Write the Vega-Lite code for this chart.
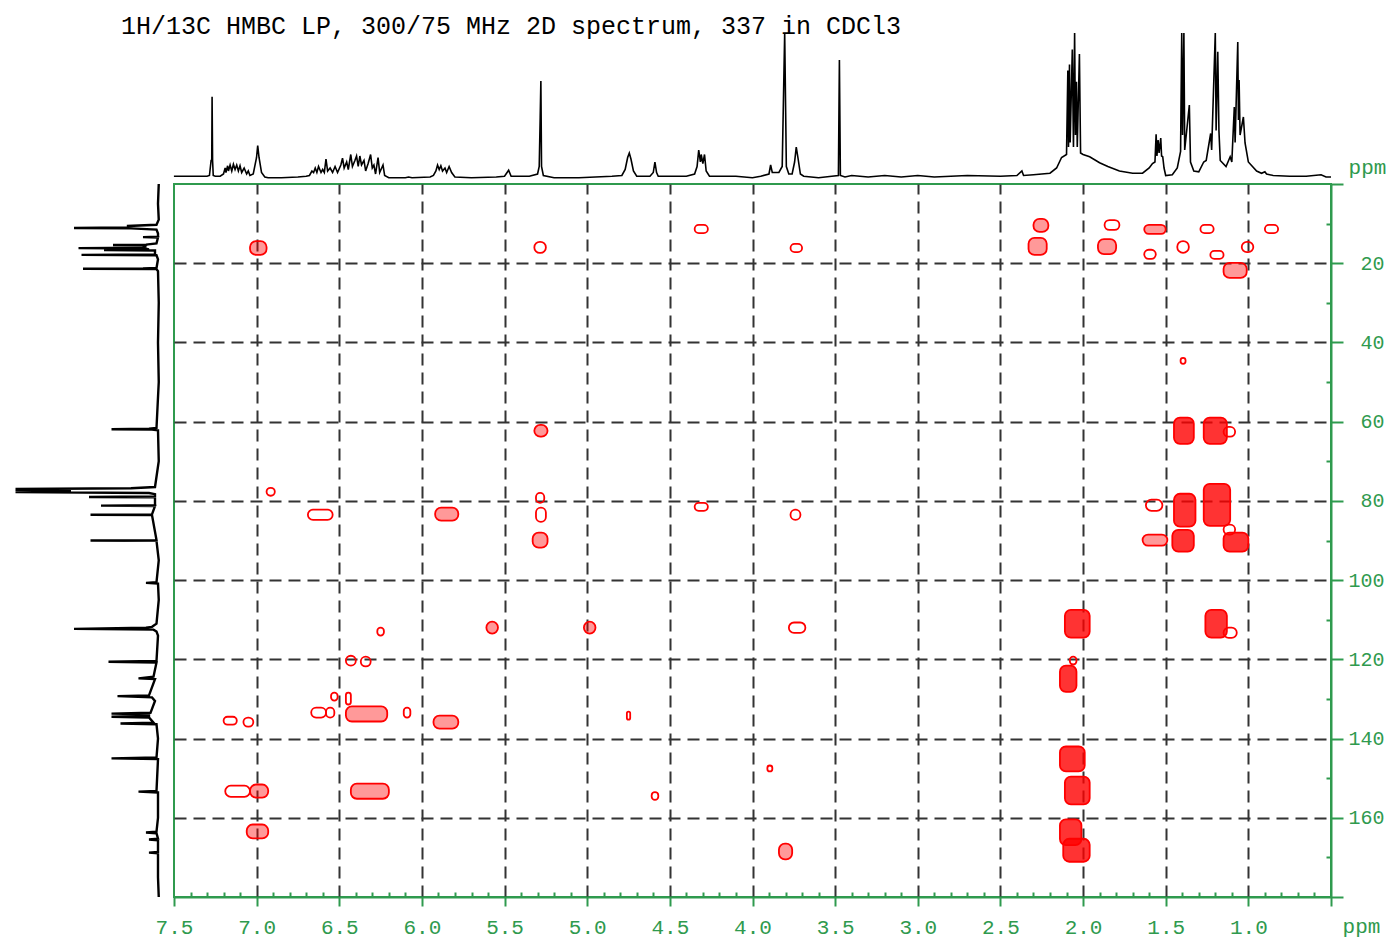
{
  "$schema": "https://vega.github.io/schema/vega-lite/v6.json",
  "padding": {"left": 10, "top": 13, "right": 0, "bottom": 0},
  "background": "white",
  "bounds": "flush",
  "spacing": 4,
  "config": {"font": "Liberation Mono", "view": {"stroke": null}},
  "datasets": {
    "proton": [
      {"d": 7.50, "i": 2.5}, {"d": 7.30, "i": 2.5}, {"d": 7.285, "i": 3}, {"d": 7.275, "i": 13}, {"d": 7.271, "i": 13},
      {"d": 7.269, "i": 55.5}, {"d": 7.266, "i": 13}, {"d": 7.262, "i": 3}, {"d": 7.25, "i": 2.5}, {"d": 7.22, "i": 2.5},
      {"d": 7.20, "i": 4}, {"d": 7.19, "i": 8}, {"d": 7.185, "i": 5}, {"d": 7.175, "i": 9.5}, {"d": 7.17, "i": 6},
      {"d": 7.16, "i": 10}, {"d": 7.15, "i": 6}, {"d": 7.14, "i": 10.5}, {"d": 7.13, "i": 7}, {"d": 7.12, "i": 10},
      {"d": 7.11, "i": 6}, {"d": 7.10, "i": 9.5}, {"d": 7.09, "i": 5}, {"d": 7.075, "i": 8}, {"d": 7.06, "i": 4},
      {"d": 7.05, "i": 6}, {"d": 7.04, "i": 3}, {"d": 7.02, "i": 4}, {"d": 7.00, "i": 15}, {"d": 6.993, "i": 23},
      {"d": 6.985, "i": 15}, {"d": 6.97, "i": 5}, {"d": 6.95, "i": 2}, {"d": 6.93, "i": 1.5}, {"d": 6.85, "i": 1.5},
      {"d": 6.75, "i": 2}, {"d": 6.70, "i": 2.5}, {"d": 6.68, "i": 3}, {"d": 6.665, "i": 6}, {"d": 6.655, "i": 5},
      {"d": 6.645, "i": 8}, {"d": 6.635, "i": 5}, {"d": 6.625, "i": 9}, {"d": 6.61, "i": 5}, {"d": 6.60, "i": 7},
      {"d": 6.59, "i": 5}, {"d": 6.58, "i": 14}, {"d": 6.57, "i": 6}, {"d": 6.555, "i": 8}, {"d": 6.54, "i": 5},
      {"d": 6.525, "i": 9}, {"d": 6.51, "i": 5}, {"d": 6.49, "i": 10}, {"d": 6.48, "i": 14.5}, {"d": 6.47, "i": 8},
      {"d": 6.455, "i": 12}, {"d": 6.445, "i": 7}, {"d": 6.43, "i": 17}, {"d": 6.42, "i": 9}, {"d": 6.405, "i": 13},
      {"d": 6.395, "i": 16}, {"d": 6.385, "i": 9}, {"d": 6.375, "i": 16}, {"d": 6.365, "i": 10}, {"d": 6.35, "i": 13},
      {"d": 6.34, "i": 6}, {"d": 6.325, "i": 11}, {"d": 6.31, "i": 17}, {"d": 6.30, "i": 8}, {"d": 6.29, "i": 10},
      {"d": 6.28, "i": 4}, {"d": 6.265, "i": 15}, {"d": 6.255, "i": 5}, {"d": 6.235, "i": 10}, {"d": 6.225, "i": 3},
      {"d": 6.20, "i": 1.5}, {"d": 6.10, "i": 1.5}, {"d": 6.08, "i": 2}, {"d": 6.06, "i": 1.5}, {"d": 5.95, "i": 2},
      {"d": 5.93, "i": 3}, {"d": 5.915, "i": 6}, {"d": 5.905, "i": 10}, {"d": 5.895, "i": 7}, {"d": 5.885, "i": 9.5},
      {"d": 5.875, "i": 6}, {"d": 5.86, "i": 8}, {"d": 5.85, "i": 5}, {"d": 5.835, "i": 9}, {"d": 5.82, "i": 5},
      {"d": 5.80, "i": 2}, {"d": 5.70, "i": 1.5}, {"d": 5.55, "i": 2}, {"d": 5.50, "i": 2.5}, {"d": 5.475, "i": 6.5},
      {"d": 5.46, "i": 2.5}, {"d": 5.35, "i": 2.5}, {"d": 5.30, "i": 4}, {"d": 5.29, "i": 9}, {"d": 5.284, "i": 42},
      {"d": 5.280, "i": 66}, {"d": 5.276, "i": 9}, {"d": 5.265, "i": 3}, {"d": 5.20, "i": 1.5}, {"d": 5.05, "i": 1.5},
      {"d": 4.95, "i": 2}, {"d": 4.85, "i": 2.5}, {"d": 4.79, "i": 3}, {"d": 4.77, "i": 7}, {"d": 4.755, "i": 15},
      {"d": 4.745, "i": 18}, {"d": 4.735, "i": 14}, {"d": 4.72, "i": 6}, {"d": 4.70, "i": 2.5}, {"d": 4.62, "i": 2.5},
      {"d": 4.60, "i": 5}, {"d": 4.59, "i": 12}, {"d": 4.58, "i": 5}, {"d": 4.57, "i": 2.5}, {"d": 4.40, "i": 2.5},
      {"d": 4.35, "i": 4}, {"d": 4.335, "i": 9}, {"d": 4.325, "i": 20}, {"d": 4.315, "i": 12}, {"d": 4.31, "i": 17},
      {"d": 4.30, "i": 11}, {"d": 4.29, "i": 17}, {"d": 4.28, "i": 6}, {"d": 4.26, "i": 2.5}, {"d": 4.10, "i": 2.5},
      {"d": 4.00, "i": 1.5}, {"d": 3.95, "i": 2.5}, {"d": 3.90, "i": 4}, {"d": 3.89, "i": 10}, {"d": 3.88, "i": 5},
      {"d": 3.84, "i": 5}, {"d": 3.82, "i": 9}, {"d": 3.805, "i": 98}, {"d": 3.795, "i": 9}, {"d": 3.78, "i": 4},
      {"d": 3.76, "i": 4}, {"d": 3.745, "i": 12}, {"d": 3.735, "i": 22}, {"d": 3.725, "i": 15}, {"d": 3.71, "i": 4},
      {"d": 3.69, "i": 2.5}, {"d": 3.60, "i": 1.5}, {"d": 3.52, "i": 2.5}, {"d": 3.48, "i": 3}, {"d": 3.474, "i": 80},
      {"d": 3.468, "i": 3}, {"d": 3.44, "i": 2}, {"d": 3.40, "i": 3}, {"d": 3.30, "i": 2}, {"d": 3.20, "i": 3},
      {"d": 3.10, "i": 2}, {"d": 3.00, "i": 3}, {"d": 2.90, "i": 2}, {"d": 2.70, "i": 3}, {"d": 2.50, "i": 2.5},
      {"d": 2.40, "i": 3}, {"d": 2.37, "i": 6}, {"d": 2.36, "i": 3}, {"d": 2.30, "i": 3.5}, {"d": 2.20, "i": 4.5},
      {"d": 2.16, "i": 8}, {"d": 2.13, "i": 15}, {"d": 2.10, "i": 17}, {"d": 2.092, "i": 73}, {"d": 2.088, "i": 22},
      {"d": 2.082, "i": 77}, {"d": 2.078, "i": 25}, {"d": 2.065, "i": 87}, {"d": 2.058, "i": 22}, {"d": 2.051, "i": 98},
      {"d": 2.046, "i": 30}, {"d": 2.040, "i": 65.5}, {"d": 2.035, "i": 22}, {"d": 2.022, "i": 84}, {"d": 2.015, "i": 18},
      {"d": 2.00, "i": 17}, {"d": 1.96, "i": 15.5}, {"d": 1.90, "i": 11.5}, {"d": 1.85, "i": 9}, {"d": 1.78, "i": 6},
      {"d": 1.70, "i": 4.5}, {"d": 1.64, "i": 4.5}, {"d": 1.60, "i": 8}, {"d": 1.58, "i": 11}, {"d": 1.565, "i": 12},
      {"d": 1.558, "i": 30.5}, {"d": 1.553, "i": 16}, {"d": 1.546, "i": 26.7}, {"d": 1.540, "i": 18}, {"d": 1.530, "i": 28},
      {"d": 1.525, "i": 16}, {"d": 1.518, "i": 15.5}, {"d": 1.51, "i": 8}, {"d": 1.50, "i": 3}, {"d": 1.46, "i": 3.5},
      {"d": 1.43, "i": 8}, {"d": 1.41, "i": 19}, {"d": 1.403, "i": 98}, {"d": 1.398, "i": 30}, {"d": 1.390, "i": 98},
      {"d": 1.385, "i": 20}, {"d": 1.357, "i": 50}, {"d": 1.35, "i": 12}, {"d": 1.33, "i": 6}, {"d": 1.30, "i": 5.5},
      {"d": 1.27, "i": 12}, {"d": 1.255, "i": 13}, {"d": 1.228, "i": 31}, {"d": 1.222, "i": 20}, {"d": 1.200, "i": 98},
      {"d": 1.195, "i": 33}, {"d": 1.185, "i": 85.5}, {"d": 1.178, "i": 33}, {"d": 1.17, "i": 13}, {"d": 1.135, "i": 9},
      {"d": 1.110, "i": 15.5}, {"d": 1.10, "i": 12}, {"d": 1.085, "i": 48.6}, {"d": 1.080, "i": 25}, {"d": 1.064, "i": 92},
      {"d": 1.060, "i": 40}, {"d": 1.056, "i": 66.7}, {"d": 1.050, "i": 30}, {"d": 1.030, "i": 42}, {"d": 1.020, "i": 24.7},
      {"d": 1.00, "i": 12}, {"d": 0.95, "i": 6}, {"d": 0.92, "i": 4.5}, {"d": 0.90, "i": 5.5}, {"d": 0.89, "i": 4},
      {"d": 0.85, "i": 3}, {"d": 0.75, "i": 2.5}, {"d": 0.65, "i": 2.5}, {"d": 0.56, "i": 3.5}, {"d": 0.53, "i": 2},
      {"d": 0.50, "i": 2}
    ],
    "carbon": [
      {"c": 0, "i": 1.5}, {"c": 5, "i": 2}, {"c": 9, "i": 1.5}, {"c": 10.3, "i": 3}, {"c": 10.6, "i": 22},
      {"c": 11.0, "i": 22}, {"c": 11.1, "i": 58}, {"c": 11.2, "i": 20}, {"c": 11.5, "i": 3}, {"c": 12.5, "i": 2},
      {"c": 13.3, "i": 2}, {"c": 13.4, "i": 12}, {"c": 13.5, "i": 2}, {"c": 15.0, "i": 3}, {"c": 15.3, "i": 10},
      {"c": 15.4, "i": 32}, {"c": 15.5, "i": 10}, {"c": 16.1, "i": 12}, {"c": 16.2, "i": 55}, {"c": 16.3, "i": 10},
      {"c": 16.6, "i": 8}, {"c": 16.7, "i": 38}, {"c": 16.8, "i": 4}, {"c": 17.8, "i": 4}, {"c": 17.9, "i": 53},
      {"c": 18.0, "i": 3}, {"c": 19, "i": 2}, {"c": 21.2, "i": 3}, {"c": 21.3, "i": 12}, {"c": 21.4, "i": 52},
      {"c": 21.5, "i": 3}, {"c": 22, "i": 2}, {"c": 30, "i": 1.5}, {"c": 40, "i": 2}, {"c": 50, "i": 1.5},
      {"c": 61.6, "i": 3}, {"c": 61.8, "i": 8}, {"c": 61.9, "i": 33}, {"c": 62.0, "i": 6}, {"c": 62.2, "i": 2},
      {"c": 70, "i": 1.5}, {"c": 76.5, "i": 4}, {"c": 76.8, "i": 20}, {"c": 77.0, "i": 97}, {"c": 77.2, "i": 60},
      {"c": 77.4, "i": 97}, {"c": 77.6, "i": 60}, {"c": 77.8, "i": 97}, {"c": 78.0, "i": 8}, {"c": 78.3, "i": 4},
      {"c": 78.9, "i": 4}, {"c": 79.0, "i": 48}, {"c": 79.1, "i": 4}, {"c": 81.1, "i": 4}, {"c": 81.2, "i": 40},
      {"c": 81.3, "i": 4}, {"c": 83.4, "i": 6}, {"c": 83.5, "i": 47}, {"c": 83.6, "i": 6}, {"c": 89.9, "i": 3},
      {"c": 90.0, "i": 47}, {"c": 90.1, "i": 3}, {"c": 95, "i": 1.5}, {"c": 100.5, "i": 3}, {"c": 100.7, "i": 10},
      {"c": 100.9, "i": 2}, {"c": 105, "i": 1.5}, {"c": 111.0, "i": 3}, {"c": 111.8, "i": 6}, {"c": 112.0, "i": 10},
      {"c": 112.3, "i": 58}, {"c": 112.5, "i": 5}, {"c": 113.0, "i": 3}, {"c": 114, "i": 2}, {"c": 120.4, "i": 3},
      {"c": 120.6, "i": 35}, {"c": 120.8, "i": 3}, {"c": 124.4, "i": 5}, {"c": 124.8, "i": 15}, {"c": 125.0, "i": 4},
      {"c": 129.1, "i": 8}, {"c": 129.3, "i": 29}, {"c": 129.6, "i": 6}, {"c": 130.5, "i": 4}, {"c": 133.5, "i": 7},
      {"c": 133.7, "i": 33}, {"c": 133.9, "i": 8}, {"c": 134.3, "i": 8}, {"c": 134.5, "i": 33}, {"c": 134.7, "i": 8},
      {"c": 136.0, "i": 5}, {"c": 136.2, "i": 27}, {"c": 136.4, "i": 3}, {"c": 140, "i": 2}, {"c": 144.8, "i": 3},
      {"c": 145.0, "i": 33}, {"c": 145.2, "i": 2}, {"c": 153.2, "i": 3}, {"c": 153.4, "i": 15}, {"c": 153.6, "i": 2},
      {"c": 160, "i": 2}, {"c": 163.5, "i": 3}, {"c": 163.7, "i": 10}, {"c": 163.9, "i": 3}, {"c": 165.3, "i": 2},
      {"c": 165.5, "i": 8}, {"c": 165.7, "i": 2}, {"c": 168.6, "i": 2}, {"c": 168.8, "i": 8}, {"c": 169.0, "i": 2},
      {"c": 175, "i": 2}, {"c": 180, "i": 1.5}
    ],
    "peaks": [
      {"x1": 4.35, "x2": 4.27, "y1": 10.3, "y2": 12.4, "lv": 1},
      {"x1": 2.30, "x2": 2.21, "y1": 8.8, "y2": 12.1, "lv": 2},
      {"x1": 1.87, "x2": 1.78, "y1": 9.1, "y2": 11.6, "lv": 1},
      {"x1": 1.63, "x2": 1.50, "y1": 10.3, "y2": 12.6, "lv": 2},
      {"x1": 1.29, "x2": 1.21, "y1": 10.3, "y2": 12.4, "lv": 1},
      {"x1": 0.90, "x2": 0.82, "y1": 10.3, "y2": 12.4, "lv": 1},
      {"x1": 7.04, "x2": 6.94, "y1": 14.4, "y2": 17.9, "lv": 2},
      {"x1": 5.32, "x2": 5.25, "y1": 14.6, "y2": 17.4, "lv": 1},
      {"x1": 3.77, "x2": 3.70, "y1": 15.1, "y2": 17.2, "lv": 1},
      {"x1": 2.33, "x2": 2.22, "y1": 13.6, "y2": 17.9, "lv": 2},
      {"x1": 1.91, "x2": 1.80, "y1": 13.9, "y2": 17.7, "lv": 2},
      {"x1": 1.63, "x2": 1.56, "y1": 16.6, "y2": 18.9, "lv": 1},
      {"x1": 1.43, "x2": 1.36, "y1": 14.4, "y2": 17.4, "lv": 1},
      {"x1": 1.23, "x2": 1.15, "y1": 16.9, "y2": 18.9, "lv": 1},
      {"x1": 1.04, "x2": 0.97, "y1": 14.6, "y2": 17.2, "lv": 1},
      {"x1": 1.15, "x2": 1.01, "y1": 19.9, "y2": 23.7, "lv": 2},
      {"x1": 1.41, "x2": 1.38, "y1": 43.9, "y2": 45.4, "lv": 1},
      {"x1": 5.32, "x2": 5.24, "y1": 60.8, "y2": 63.8, "lv": 2},
      {"x1": 1.45, "x2": 1.33, "y1": 59.0, "y2": 65.6, "lv": 3},
      {"x1": 1.27, "x2": 1.13, "y1": 59.0, "y2": 65.6, "lv": 3},
      {"x1": 1.15, "x2": 1.08, "y1": 61.3, "y2": 63.8, "lv": 1},
      {"x1": 6.94, "x2": 6.89, "y1": 76.7, "y2": 78.7, "lv": 1},
      {"x1": 5.31, "x2": 5.26, "y1": 78.0, "y2": 80.5, "lv": 1},
      {"x1": 5.31, "x2": 5.25, "y1": 81.7, "y2": 85.3, "lv": 1},
      {"x1": 4.35, "x2": 4.27, "y1": 80.5, "y2": 82.5, "lv": 1},
      {"x1": 3.77, "x2": 3.71, "y1": 82.2, "y2": 84.8, "lv": 1},
      {"x1": 6.69, "x2": 6.54, "y1": 82.2, "y2": 84.8, "lv": 1},
      {"x1": 5.92, "x2": 5.78, "y1": 81.7, "y2": 85.0, "lv": 2},
      {"x1": 1.62, "x2": 1.52, "y1": 79.7, "y2": 82.5, "lv": 1},
      {"x1": 1.45, "x2": 1.32, "y1": 78.2, "y2": 86.5, "lv": 3},
      {"x1": 1.27, "x2": 1.11, "y1": 75.7, "y2": 86.3, "lv": 3},
      {"x1": 1.15, "x2": 1.08, "y1": 86.0, "y2": 88.5, "lv": 1},
      {"x1": 5.33, "x2": 5.24, "y1": 88.0, "y2": 91.8, "lv": 2},
      {"x1": 1.64, "x2": 1.49, "y1": 88.5, "y2": 91.3, "lv": 2},
      {"x1": 1.46, "x2": 1.33, "y1": 87.3, "y2": 92.8, "lv": 3},
      {"x1": 1.15, "x2": 1.00, "y1": 88.0, "y2": 92.8, "lv": 3},
      {"x1": 5.61, "x2": 5.54, "y1": 110.5, "y2": 113.5, "lv": 2},
      {"x1": 5.02, "x2": 4.95, "y1": 110.5, "y2": 113.5, "lv": 2},
      {"x1": 3.78, "x2": 3.68, "y1": 110.7, "y2": 113.3, "lv": 1},
      {"x1": 2.11, "x2": 1.96, "y1": 107.5, "y2": 114.5, "lv": 3},
      {"x1": 1.26, "x2": 1.13, "y1": 107.5, "y2": 114.5, "lv": 3},
      {"x1": 1.15, "x2": 1.07, "y1": 112.0, "y2": 114.6, "lv": 1},
      {"x1": 6.27, "x2": 6.23, "y1": 112.0, "y2": 114.0, "lv": 1},
      {"x1": 6.46, "x2": 6.40, "y1": 119.1, "y2": 121.6, "lv": 1},
      {"x1": 6.37, "x2": 6.31, "y1": 119.3, "y2": 121.8, "lv": 1},
      {"x1": 2.08, "x2": 2.04, "y1": 119.3, "y2": 121.3, "lv": 1},
      {"x1": 2.14, "x2": 2.04, "y1": 121.6, "y2": 128.2, "lv": 3},
      {"x1": 6.55, "x2": 6.51, "y1": 128.4, "y2": 130.4, "lv": 1},
      {"x1": 6.46, "x2": 6.43, "y1": 128.4, "y2": 131.4, "lv": 1},
      {"x1": 6.67, "x2": 6.58, "y1": 132.2, "y2": 134.7, "lv": 1},
      {"x1": 6.58, "x2": 6.53, "y1": 132.2, "y2": 134.7, "lv": 1},
      {"x1": 6.46, "x2": 6.21, "y1": 131.9, "y2": 135.7, "lv": 2},
      {"x1": 6.11, "x2": 6.07, "y1": 132.2, "y2": 134.7, "lv": 1},
      {"x1": 7.20, "x2": 7.12, "y1": 134.5, "y2": 136.5, "lv": 1},
      {"x1": 7.08, "x2": 7.02, "y1": 134.7, "y2": 137.0, "lv": 1},
      {"x1": 5.93, "x2": 5.78, "y1": 134.2, "y2": 137.5, "lv": 2},
      {"x1": 4.76, "x2": 4.74, "y1": 133.2, "y2": 135.2, "lv": 1},
      {"x1": 3.91, "x2": 3.88, "y1": 146.8, "y2": 148.3, "lv": 1},
      {"x1": 2.14, "x2": 1.99, "y1": 142.0, "y2": 148.3, "lv": 3},
      {"x1": 7.19, "x2": 7.04, "y1": 151.9, "y2": 154.7, "lv": 1},
      {"x1": 7.04, "x2": 6.93, "y1": 151.6, "y2": 154.9, "lv": 2},
      {"x1": 6.43, "x2": 6.20, "y1": 151.4, "y2": 155.2, "lv": 2},
      {"x1": 4.61, "x2": 4.57, "y1": 153.5, "y2": 155.5, "lv": 1},
      {"x1": 2.11, "x2": 1.96, "y1": 149.6, "y2": 156.6, "lv": 3},
      {"x1": 7.06, "x2": 6.93, "y1": 161.7, "y2": 165.2, "lv": 2},
      {"x1": 2.14, "x2": 2.01, "y1": 160.4, "y2": 166.9, "lv": 3},
      {"x1": 3.84, "x2": 3.76, "y1": 166.5, "y2": 170.5, "lv": 2},
      {"x1": 2.12, "x2": 1.96, "y1": 165.3, "y2": 171.1, "lv": 3}
    ]
  },
  "vconcat": [
    {
      "title": {
        "text": "1H/13C HMBC LP, 300/75 MHz 2D spectrum, 337 in CDCl3",
        "anchor": "start",
        "frame": "group",
        "font": "Liberation Mono",
        "fontSize": 25,
        "fontWeight": "normal",
        "color": "#000000",
        "baseline": "alphabetic",
        "offset": -29,
        "dx": 110
      },
      "width": 1320,
      "height": 150,
      "data": {"name": "proton"},
      "mark": {"type": "line", "color": "#000000", "strokeWidth": 1.6, "interpolate": "linear"},
      "encoding": {
        "x": {"field": "d", "type": "quantitative", "axis": null,
              "scale": {"domain": [0.5, 8.4855], "reverse": true, "nice": false, "zero": false}},
        "y": {"field": "i", "type": "quantitative", "axis": null,
              "scale": {"domain": [0, 100], "nice": false, "zero": false}}
      }
    },
    {
      "hconcat": [
        {
          "width": 150,
          "height": 713,
          "data": {"name": "carbon"},
          "mark": {"type": "line", "color": "#000000", "strokeWidth": 2.4},
          "encoding": {
            "x": {"field": "i", "type": "quantitative", "axis": null,
                  "scale": {"domain": [0, 100], "reverse": true, "nice": false, "zero": false}},
            "y": {"field": "c", "type": "quantitative", "axis": null,
                  "scale": {"domain": [0, 180], "reverse": true, "nice": false, "zero": false}},
            "order": {"field": "c", "type": "quantitative"}
          }
        },
        {
          "width": 1157,
          "height": 713,
          "view": {"stroke": "#2f9a4e", "strokeWidth": 2},
          "data": {"name": "peaks"},
          "mark": {"type": "rect", "stroke": "#ff0000", "strokeWidth": 1.8, "fill": "#ff0000", "cornerRadius": 6},
          "encoding": {
            "x": {
              "field": "x1", "type": "quantitative",
              "scale": {"domain": [0.5, 7.5], "reverse": true, "nice": false, "zero": false},
              "axis": {
                "orient": "bottom",
                "values": [7.5, 7.4, 7.3, 7.2, 7.1, 7.0, 6.9, 6.8, 6.7, 6.6, 6.5, 6.4, 6.3, 6.2, 6.1, 6.0, 5.9, 5.8, 5.7, 5.6, 5.5, 5.4, 5.3, 5.2, 5.1, 5.0, 4.9, 4.8, 4.7, 4.6, 4.5, 4.4, 4.3, 4.2, 4.1, 4.0, 3.9, 3.8, 3.7, 3.6, 3.5, 3.4, 3.3, 3.2, 3.1, 3.0, 2.9, 2.8, 2.7, 2.6, 2.5, 2.4, 2.3, 2.2, 2.1, 2.0, 1.9, 1.8, 1.7, 1.6, 1.5, 1.4, 1.3, 1.2, 1.1, 1.0, 0.9, 0.8, 0.7, 0.6, 0.5],
                "labelExpr": "abs(datum.value*2-round(datum.value*2))<0.01 && datum.value>0.7 ? format(datum.value, '.1f') : ''",
                "labelFont": "Liberation Mono",
                "labelFontSize": 21,
                "labelColor": "#2f9a4e",
                "labelPadding": 10,
                "labelOverlap": false,
                "labelFlush": false,
                "labelBound": false,
                "domainColor": "#2f9a4e",
                "domainWidth": 2,
                "tickColor": "#2f9a4e",
                "tickWidth": 2,
                "tickSize": {"condition": {"test": "abs(datum.value*2-round(datum.value*2))<0.01", "value": 9}, "value": -5},
                "grid": true,
                "gridColor": "#333333",
                "gridWidth": 2,
                "gridDash": [12, 7],
                "gridOpacity": {"condition": {"test": "abs(datum.value*2-round(datum.value*2))<0.01 && datum.value>0.7 && datum.value<7.3", "value": 1}, "value": 0},
                "title": "ppm",
                "titleFont": "Liberation Mono",
                "titleFontSize": 21,
                "titleFontWeight": "normal",
                "titleColor": "#2f9a4e",
                "titleX": 1187,
                "titleY": 35,
                "titleAlign": "center",
                "titleBaseline": "alphabetic"
              }
            },
            "x2": {"field": "x2"},
            "y": {
              "field": "y1", "type": "quantitative",
              "scale": {"domain": [0, 180], "reverse": true, "nice": false, "zero": false},
              "axis": {
                "orient": "right",
                "values": [0, 10, 20, 30, 40, 50, 60, 70, 80, 90, 100, 110, 120, 130, 140, 150, 160, 170, 180],
                "labelExpr": "datum.value % 20 == 0 && datum.value > 10 && datum.value < 170 ? format(datum.value, 'd') : ''",
                "labelFont": "Liberation Mono",
                "labelFontSize": 20,
                "labelColor": "#2f9a4e",
                "labelAlign": "right",
                "labelBaseline": "middle",
                "labelPadding": 41,
                "labelOverlap": false,
                "labelFlush": false,
                "labelBound": false,
                "domainColor": "#2f9a4e",
                "domainWidth": 2,
                "tickColor": "#2f9a4e",
                "tickWidth": 2,
                "tickSize": {"condition": {"test": "datum.value % 20 == 0", "value": 12}, "value": -5},
                "grid": true,
                "gridColor": "#333333",
                "gridWidth": 2,
                "gridDash": [12, 7],
                "gridOpacity": {"condition": {"test": "datum.value % 20 == 0 && datum.value > 10 && datum.value < 170", "value": 1}, "value": 0},
                "title": "ppm",
                "titleFont": "Liberation Mono",
                "titleFontSize": 21,
                "titleFontWeight": "normal",
                "titleColor": "#2f9a4e",
                "titleAngle": 0,
                "titleX": 36,
                "titleY": -11,
                "titleAlign": "center",
                "titleBaseline": "alphabetic"
              }
            },
            "y2": {"field": "y2"},
            "fillOpacity": {"field": "lv", "type": "quantitative", "legend": null,
                            "scale": {"domain": [1, 3], "range": [0, 0.8]}}
          }
        }
      ],
      "spacing": 13,
      "bounds": "flush"
    }
  ]
}
